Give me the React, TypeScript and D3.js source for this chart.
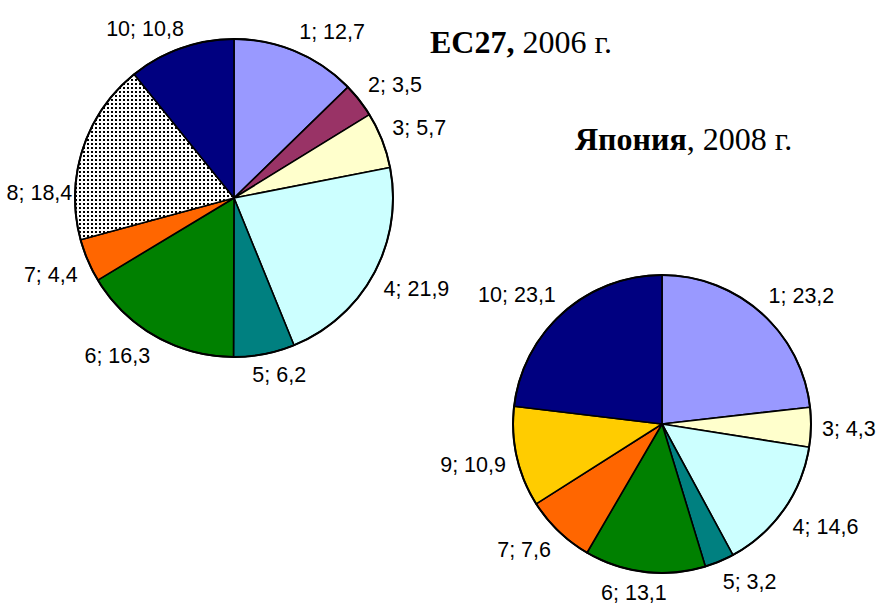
import React, { useEffect, useRef } from "react";
import * as d3 from "d3";

// ЕС27, 2006 г. (категория 9 отсутствует)
const euCategories = [1, 2, 3, 4, 5, 6, 7, 8, 10];
const euValues = [12.7, 3.5, 5.7, 21.9, 6.2, 16.3, 4.4, 18.4, 10.8];

// Япония, 2008 г. (категории 2 и 8 отсутствуют)
const jpCategories = [1, 3, 4, 5, 6, 7, 9, 10];
const jpValues = [23.2, 4.3, 14.6, 3.2, 13.1, 7.6, 10.9, 23.1];

const colors: Record<number, string> = {
  1: "#9999ff",
  2: "#993366",
  3: "#ffffcc",
  4: "#ccffff",
  5: "#008080",
  6: "#008000",
  7: "#ff6600",
  8: "url(#dots)",
  9: "#ffcc00",
  10: "#000080",
};

const fmt = (v: number) => v.toFixed(1).replace(".", ",");

function drawPie(
  svg: d3.Selection<SVGSVGElement, unknown, null, undefined>,
  cats: number[],
  vals: number[],
  cx: number,
  cy: number,
  r: number,
  nudge: Record<number, number> = {}
) {
  const data = cats.map((c, i) => ({ cat: c, value: vals[i] }));
  const pie = d3.pie<{ cat: number; value: number }>().sort(null).value(d => d.value);
  const arcs = pie(data);
  const arc = d3.arc<d3.PieArcDatum<{ cat: number; value: number }>>().innerRadius(0).outerRadius(r);

  const g = svg.append("g").attr("transform", `translate(${cx},${cy})`);

  g.selectAll("path")
    .data(arcs)
    .join("path")
    .attr("d", arc)
    .attr("fill", d => colors[d.data.cat])
    .attr("stroke", "#000")
    .attr("stroke-width", 1.6)
    .attr("stroke-linejoin", "round");

  g.append("circle").attr("r", r).attr("fill", "none").attr("stroke", "#000").attr("stroke-width", 2);

  // подписи: "категория; значение" снаружи круга
  const fs = 21.5;
  const k = 2.5;
  g.selectAll("text.lbl")
    .data(arcs)
    .join("text")
    .attr("class", "lbl")
    .attr("font-family", "Liberation Sans, Arial, sans-serif")
    .attr("font-size", fs)
    .attr("fill", "#000")
    .text(d => `${d.data.cat}; ${fmt(d.data.value)}`)
    .each(function (d) {
      const el = this as SVGTextElement;
      const w = el.getComputedTextLength();
      const h = fs * 0.9;
      const a = (d.startAngle + d.endAngle) / 2;
      const s = Math.sin(a);
      const c = Math.cos(a);
      const R = r + 11;
      const px = R * s;
      const py = -R * c;
      const sx = Math.max(-1, Math.min(1, s * k));
      const sy = Math.max(-1, Math.min(1, c * k));
      const left = px - (w * (1 - sx)) / 2;
      const centerY = py - (h / 2) * sy + (nudge[d.data.cat] || 0);
      d3.select(el).attr("x", left).attr("y", centerY + fs * 0.36);
    });
}

export default function App() {
  const ref = useRef<SVGSVGElement>(null);

  useEffect(() => {
    const svg = d3.select(ref.current!);
    svg.selectAll("*").remove();

    // точечная штриховка для категории 8
    const defs = svg.append("defs");
    const pat = defs
      .append("pattern")
      .attr("id", "dots")
      .attr("patternUnits", "userSpaceOnUse")
      .attr("width", 4)
      .attr("height", 4);
    pat.append("rect").attr("width", 4).attr("height", 4).attr("fill", "#fff");
    pat
      .append("rect")
      .attr("x", 1)
      .attr("y", 1)
      .attr("width", 2)
      .attr("height", 2)
      .attr("fill", "#000")
      .attr("shape-rendering", "crispEdges");

    drawPie(svg, euCategories, euValues, 234, 198, 159, { 8: 54 });
    drawPie(svg, jpCategories, jpValues, 662, 424, 149);

    const t1 = svg
      .append("text")
      .attr("x", 430)
      .attr("y", 53)
      .attr("font-family", "Liberation Serif, Times New Roman, serif")
      .attr("font-size", 32);
    t1.append("tspan").attr("font-weight", "bold").text("ЕС27,");
    t1.append("tspan").text(" 2006 г.");

    const t2 = svg
      .append("text")
      .attr("x", 575)
      .attr("y", 150)
      .attr("font-family", "Liberation Serif, Times New Roman, serif")
      .attr("font-size", 32);
    t2.append("tspan").attr("font-weight", "bold").text("Япония");
    t2.append("tspan").text(", 2008 г.");
  }, []);

  return (
    <svg
      ref={ref}
      width={876}
      height={610}
      style={{ position: "absolute", left: 0, top: 0, background: "#fff" }}
    />
  );
}
